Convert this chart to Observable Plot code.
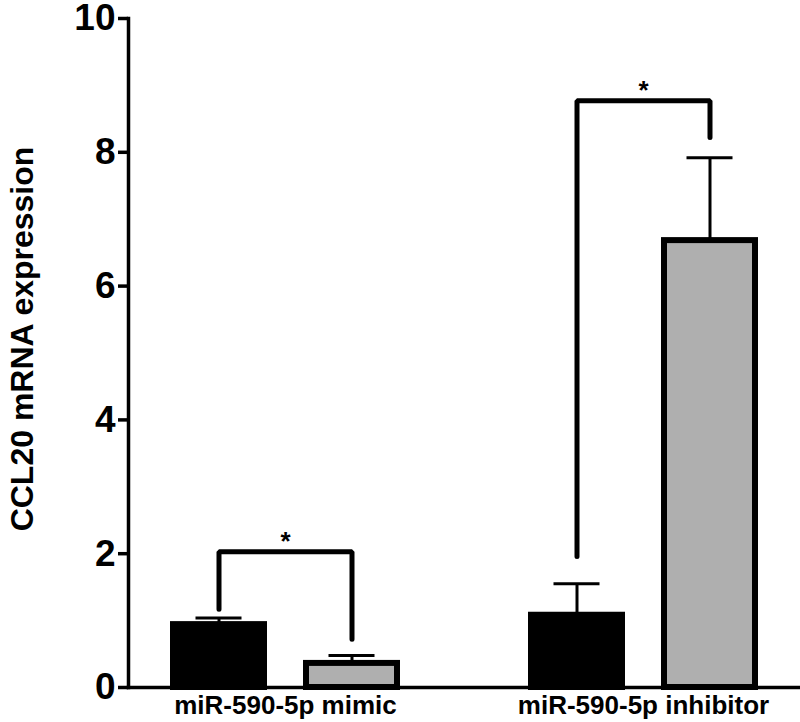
<!DOCTYPE html>
<html><head><meta charset="utf-8">
<script src="https://cdn.jsdelivr.net/npm/d3@7"></script>
<script src="https://cdn.jsdelivr.net/npm/@observablehq/plot@0.6"></script>
<style>body{margin:0;background:#fff}</style>
</head><body><div id="chart"></div>
<script>
const groups = ["miR-590-5p mimic", "miR-590-5p inhibitor"];
const conditions = ["control", "miR-590-5p"];
const means = [[0.94, 0.36], [1.08, 6.68]];
const errors = [[0.10, 0.12], [0.47, 1.24]];
const bracketTop = [2.03, 8.77];
const bracketLeftEnd = [1.17, 1.96];
const bracketRightEnd = [0.72, 8.22];
const yTicks = [0, 2, 4, 6, 8, 10];
const yLabel = "CCL20 mRNA expression";
const fills = ["#000000", "#afafaf"];

const bars = groups.flatMap((g, i) => conditions.map((c, j) => ({
  group: g, cond: c, mean: means[i][j], upper: means[i][j] + errors[i][j]
})));
const bracketPts = groups.flatMap((g, i) => [
  {group: g, cond: conditions[0], y: bracketLeftEnd[i]},
  {group: g, cond: conditions[0], y: bracketTop[i]},
  {group: g, cond: conditions[1], y: bracketTop[i]},
  {group: g, cond: conditions[1], y: bracketRightEnd[i]}
]);
const stars = groups.map((g, i) => ({group: g, y: bracketTop[i], label: "*"}));

const chart = Plot.plot({
  width: 800, height: 722,
  marginLeft: 127, marginRight: 0, marginTop: 18, marginBottom: 35,
  style: {fontFamily: "'Liberation Sans', Arial, sans-serif", background: "#fff", color: "#000"},
  fx: {domain: groups, paddingInner: 0.123, paddingOuter: 0},
  x: {domain: conditions, paddingInner: 0.313, paddingOuter: 0.33, axis: null},
  y: {domain: [0, 10]},
  color: {domain: conditions, range: fills},
  marks: [
    Plot.barY(bars, {fx: "group", x: "cond", y: "mean", fill: "cond", stroke: "#000", strokeWidth: 6}),
    Plot.ruleX(bars, {fx: "group", x: "cond", y1: "mean", y2: "upper", stroke: "#000", strokeWidth: 3}),
    Plot.tickY(bars, {fx: "group", x: "cond", y: "upper", stroke: "#000", strokeWidth: 3, insetLeft: 22.5, insetRight: 22.5}),
    Plot.line(bracketPts, {fx: "group", x: "cond", y: "y", z: "group", stroke: "#000", strokeWidth: 5, strokeLinecap: "round", strokeLinejoin: "miter"}),
    Plot.text(stars, {fx: "group", y: "y", text: "label", fontSize: 26, fontWeight: "bold", lineAnchor: "bottom", dy: -2}),
    Plot.frame({anchor: "bottom", facet: "super", stroke: "#000", strokeWidth: 3.5}),
    Plot.frame({anchor: "left", facet: "super", stroke: "#000", strokeWidth: 3.5}),
    Plot.axisY({ticks: yTicks, tickSize: 10, tickPadding: 3, strokeWidth: 3.5, fontSize: 37, fontWeight: "bold", label: null, tickFormat: d => d}),
    Plot.text([yLabel], {facet: "super", frameAnchor: "left", text: d => d, rotate: -90, textAnchor: "middle", lineAnchor: "middle", fontSize: 32, fontWeight: "bold", dx: -106, dy: -14}),
    Plot.axisFx({anchor: "bottom", tickSize: 0, tickPadding: 8, fontSize: 26, fontWeight: "bold", label: null})
  ]
});
document.getElementById("chart").appendChild(chart);
</script>
</body></html>
